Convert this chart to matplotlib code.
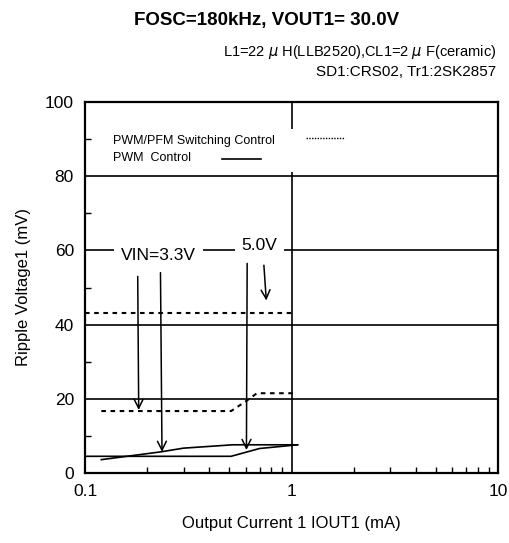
import matplotlib
matplotlib.use("Agg")
import matplotlib.pyplot as plt
from matplotlib.ticker import LogLocator, FixedLocator, NullFormatter

plt.rcParams['font.family'] = ['Liberation Sans', 'DejaVu Sans']

# Data
pfm_33_x = [0.1, 1.02]
pfm_33_y = [43, 43]
pfm_50_x = [0.12, 0.51, 0.60, 0.68, 1.02]
pfm_50_y = [16.7, 16.7, 19.3, 21.5, 21.5]
pwm_a_x = [0.12, 0.233, 0.30, 0.52, 1.07]
pwm_a_y = [3.6, 5.7, 6.7, 7.6, 7.6]
pwm_b_x = [0.1, 0.51, 0.70, 1.07]
pwm_b_y = [4.5, 4.5, 6.6, 7.6]

# arrows: (x_start, y_start, x_end, y_end)
arrows_33 = [(0.18, 53.0, 0.182, 17.0), (0.232, 54.0, 0.236, 5.7)]
arrows_50 = [(0.61, 56.5, 0.605, 6.2), (0.735, 56.0, 0.755, 46.5)]

title = "FOSC=180kHz, VOUT1= 30.0V"
sub1 = "L1=22 $\\mu$ H(LLB2520),CL1=2 $\\mu$ F(ceramic)"
sub2 = "SD1:CRS02, Tr1:2SK2857"

fig = plt.figure(figsize=(5.09, 5.43), dpi=100)
ax = fig.add_axes([85/509, 1-473/543, (498-85)/509, (473-102)/543])
ax.set_xscale('log')
ax.set_xlim(0.1, 10)
ax.set_ylim(0, 100)

# grid
for gy in [20, 40, 60, 80]:
    ax.axhline(gy, color='black', lw=1.2, zorder=1)
ax.axvline(1, color='black', lw=1.2, zorder=1)

dash = (0, (2.2, 2.2))
ax.plot(pfm_33_x, pfm_33_y, color='black', lw=1.5, ls=dash, zorder=3)
ax.plot(pfm_50_x, pfm_50_y, color='black', lw=1.5, ls=dash, zorder=3)
ax.plot(pwm_a_x, pwm_a_y, color='black', lw=1.2, zorder=3)
ax.plot(pwm_b_x, pwm_b_y, color='black', lw=1.2, zorder=3)

for xs, ys, xe, ye in arrows_33 + arrows_50:
    ax.annotate('', xy=(xe, ye), xytext=(xs, ys),
                arrowprops=dict(arrowstyle='->', color='black', lw=1.1,
                                mutation_scale=16, shrinkA=0, shrinkB=0),
                zorder=4)

ax.text(0.228, 58.6, "VIN=3.3V", fontsize=12.5, ha='center', va='center',
        bbox=dict(facecolor='white', edgecolor='none', pad=5), zorder=5)
ax.text(0.70, 61.3, "5.0V", fontsize=12.5, ha='center', va='center',
        bbox=dict(facecolor='white', edgecolor='none', pad=5), zorder=5)

# legend (manual)
ax.add_patch(plt.Rectangle((0.05, 0.81), 0.6, 0.117, transform=ax.transAxes,
                           facecolor='white', edgecolor='none', zorder=2))
ax.text(0.068, 0.895, "PWM/PFM Switching Control", transform=ax.transAxes,
        fontsize=9, va='center', ha='left', zorder=6)
ax.text(0.068, 0.848, "PWM  Control", transform=ax.transAxes,
        fontsize=9, va='center', ha='left', zorder=6)
ax.plot([0.535, 0.63], [0.904, 0.904], transform=ax.transAxes, color='black',
        lw=1.0, ls=(0, (1, 1)), zorder=6)
ax.plot([0.331, 0.425], [0.846, 0.846], transform=ax.transAxes, color='black',
        lw=1.2, zorder=6)

# ticks
ax.xaxis.set_major_locator(FixedLocator([0.1, 1, 10]))
ax.set_xticklabels(['0.1', '1', '10'])
ax.xaxis.set_minor_locator(LogLocator(base=10, subs=range(2, 10)))
ax.xaxis.set_minor_formatter(NullFormatter())
ax.yaxis.set_major_locator(FixedLocator([0, 20, 40, 60, 80, 100]))
ax.yaxis.set_minor_locator(FixedLocator([10, 30, 50, 70, 90]))
ax.tick_params(axis='both', which='both', direction='in', top=False, right=False,
               labelsize=12.5, pad=8)
ax.tick_params(axis='both', which='major', length=0)
ax.tick_params(axis='x', which='minor', length=4, width=1)
ax.tick_params(axis='y', which='minor', length=4, width=1)
for s in ax.spines.values():
    s.set_linewidth(1.6)

ax.set_xlabel("Output Current 1 IOUT1 (mA)", fontsize=12, labelpad=12)
ax.set_ylabel("Ripple Voltage1 (mV)", fontsize=12, labelpad=10)

fig.text(0.523, 1-21/543, title, fontsize=13.5, fontweight='bold', ha='center', va='center')
fig.text(496/509, 1-52/543, sub1, fontsize=10.5, ha='right', va='center')
fig.text(496/509, 1-72/543, sub2, fontsize=11, ha='right', va='center')

fig.savefig('out.png', dpi=100)
